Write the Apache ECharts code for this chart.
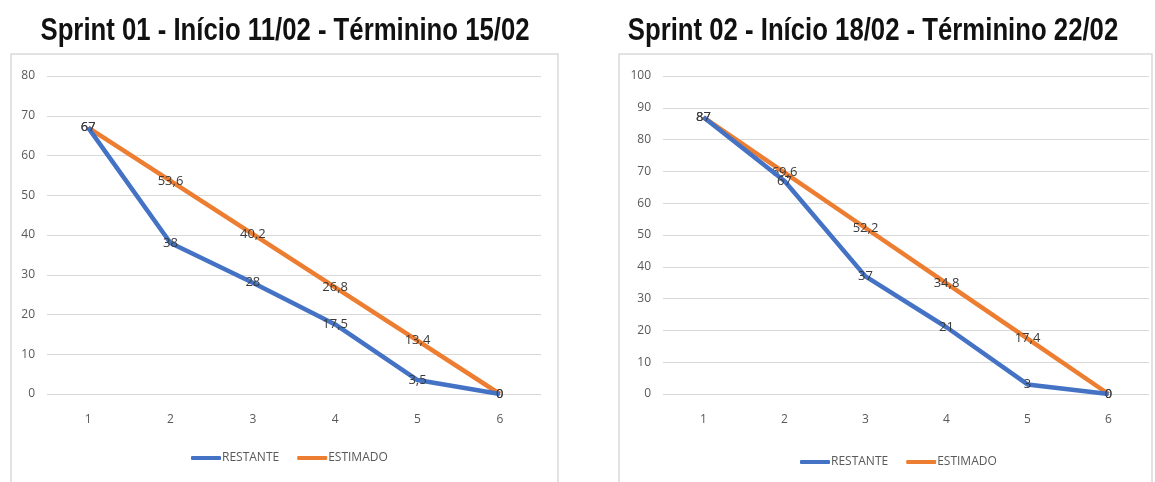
<!DOCTYPE html>
<html>
<head>
<meta charset="utf-8">
<script src="https://cdn.jsdelivr.net/npm/echarts@6/dist/echarts.min.js"></script>
<style>
html,body{margin:0;padding:0;background:#fff;}
#c{width:1155px;height:482px;}
</style>
</head>
<body>
<div id="c"></div>
<script>
var categories = ['1','2','3','4','5','6'];
var title1 = 'Sprint 01 - Início 11/02 - Términino 15/02';
var title2 = 'Sprint 02 - Início 18/02 - Términino 22/02';
var restante1 = [67, 38, 28, 17.5, 3.5, 0];
var estimado1 = [67, 53.6, 40.2, 26.8, 13.4, 0];
var restante2 = [87, 67, 37, 21, 3, 0];
var estimado2 = [87, 69.6, 52.2, 34.8, 17.4, 0];
var seriesNames = ['RESTANTE', 'ESTIMADO'];

var BLUE = '#4472C4', ORANGE = '#ED7D31';
var labelFont = '"Open Sans", sans-serif';
function fmt(v){ return String(v).replace('.', ','); }

function mkSeries(name, data, color, idx){
  return {
    name: name, type: 'line', data: data,
    xAxisIndex: idx, yAxisIndex: idx,
    symbol: 'circle', symbolSize: 1, showSymbol: true,
    lineStyle: {color: color, width: 4.5},
    itemStyle: {color: color},
    label: {show: true, position: 'inside', color: '#3a3a3a', fontSize: 13,
      fontFamily: labelFont, formatter: function(p){ return fmt(p.value); }},
    z: name === 'ESTIMADO' ? 2 : 3
  };
}
function xAx(idx){
  return {type:'category', gridIndex: idx, data: categories, boundaryGap: true,
    axisLine:{show:false}, axisTick:{show:false},
    axisLabel:{color:'#595959', fontSize:12, margin: 20, fontFamily: labelFont}};
}
function yAx(idx, max){
  return {type:'value', gridIndex: idx, min:0, max:max, interval:10,
    axisLine:{show:false}, axisTick:{show:false},
    axisLabel:{color:'#595959', fontSize:12, margin: 12, fontFamily: labelFont},
    splitLine:{lineStyle:{color:'#d9d9d9', width:1}}};
}
function titleText(txt, cx){
  return {type:'text', x: cx, y: 31, scaleX: 0.83, z: 10,
    style:{text: txt, textAlign:'center', textVerticalAlign:'middle',
      font: 'bold 31px "Liberation Sans", Arial, sans-serif', fill:'#111'}};
}

var chart = echarts.init(document.getElementById('c'));
chart.setOption({
  animation: false,
  graphic: [
    titleText(title1, 285),
    titleText(title2, 873),
    {type:'rect', shape:{x:11, y:54, width:547, height:440}, style:{fill:'none', stroke:'#d9d9d9', lineWidth:1.5}, z:-1},
    {type:'rect', shape:{x:619, y:54, width:533, height:440}, style:{fill:'none', stroke:'#d9d9d9', lineWidth:1.5}, z:-1}
  ],
  grid: [
    {left: 47, top: 76, width: 494, height: 318},
    {left: 663, top: 76, width: 486, height: 318}
  ],
  xAxis: [xAx(0), xAx(1)],
  yAxis: [yAx(0, 80), yAx(1, 100)],
  legend: [
    {data: seriesNames, left: 186, top: 447, itemWidth: 30, itemHeight: 4, itemGap: 18,
      icon: 'roundRect',
      textStyle:{color:'#595959', fontSize:12, fontFamily: labelFont, padding:[0,0,0,-4]}},
    {data: seriesNames, left: 795, top: 451, itemWidth: 30, itemHeight: 4, itemGap: 18,
      icon: 'roundRect',
      textStyle:{color:'#595959', fontSize:12, fontFamily: labelFont, padding:[0,0,0,-4]}}
  ],
  series: [
    mkSeries('RESTANTE', restante1, BLUE, 0),
    mkSeries('ESTIMADO', estimado1, ORANGE, 0),
    mkSeries('RESTANTE', restante2, BLUE, 1),
    mkSeries('ESTIMADO', estimado2, ORANGE, 1)
  ]
});
</script>
</body>
</html>
